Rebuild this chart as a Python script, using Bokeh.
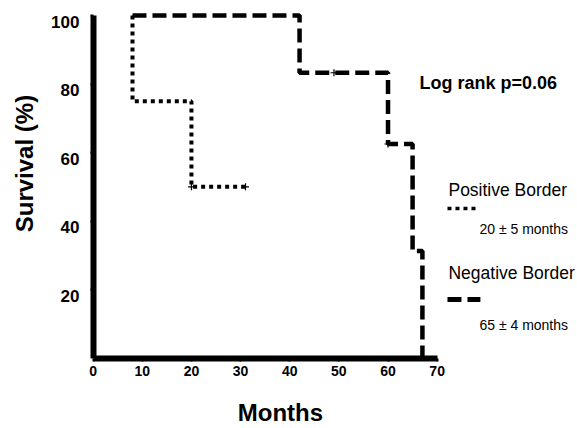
from bokeh.plotting import figure
from bokeh.models import Range1d, FixedTicker, Label, LinearAxis
from bokeh.core.properties import value
from bokeh.embed import file_html
from bokeh.resources import INLINE

# Data
x_ticks = [0, 10, 20, 30, 40, 50, 60, 70]
y_ticks = [20, 40, 60, 80, 100]
y_tick_labels = ["20", "40", "60", "80", "100"]
pos_time = [8, 8, 20, 31]
pos_surv = [100, 75, 50, 50]
pos_cens_time = [20, 31]
pos_cens_surv = [50, 50]
neg_time = [8, 42, 60, 65, 67]
neg_surv = [100, 83.3, 62.5, 31.25, 0]
neg_cens_time = [49, 60]
neg_cens_surv = [83.3, 62.5]

FONT = "Liberation Sans"

p = figure(width=577, height=428, output_backend="svg", toolbar_location=None,
           x_range=Range1d(-18.86, 98.56), y_range=Range1d(-20.51, 104.38),
           x_axis_location=None, y_axis_location=None,
           min_border=0)
p.outline_line_color = None
p.background_fill_color = "white"
p.border_fill_color = "white"

xa = LinearAxis(fixed_location=0, ticker=FixedTicker(ticks=x_ticks), bounds=(0, 70))
ya = LinearAxis(fixed_location=0, ticker=FixedTicker(ticks=y_ticks), bounds=(0, 100))
for ax in (xa, ya):
    ax.axis_line_width = 6
    ax.axis_line_color = "black"
    ax.major_tick_in = 0
    ax.major_tick_out = 3
    ax.major_tick_line_width = 2
    ax.minor_tick_line_color = None
    ax.major_label_text_font = FONT
    ax.major_label_text_font_style = "bold"
    ax.major_label_text_color = "black"
xa.major_label_text_font_size = "14px"
xa.major_label_standoff = 5
ya.major_label_text_font_size = "17px"
ya.major_label_text_color = None
p.add_layout(xa, "below")
p.add_layout(ya, "left")
p.grid.grid_line_color = None

# y tick labels (sit slightly below their ticks as in the original)
p.text(x=[0] * len(y_ticks), y=y_ticks, text=y_tick_labels, x_offset=-13.7, y_offset=6,
       text_font=value(FONT), text_font_style="bold", text_font_size="17px",
       text_align="right", text_baseline="middle", text_color="black")

p.step(pos_time, pos_surv, mode="after", line_color="black", line_width=4, line_dash="4 4")
p.step(neg_time, neg_surv, mode="after", line_color="black", line_width=4.5, line_dash="14 6")
p.scatter(pos_cens_time, pos_cens_surv, marker="cross", size=7, line_color="black", line_width=1.2)
p.scatter(neg_cens_time, neg_cens_surv, marker="cross", size=7, line_color="black", line_width=1.2)

# legend samples
p.line([72.1, 78.6], [43.7, 43.7], line_color="black", line_width=3.5, line_dash="4 4")
p.line([72.1, 78.8], [17.1, 17.1], line_color="black", line_width=5, line_dash="14 6")

def lab(x, y, t, size, style="normal", align="left", angle=0):
    p.add_layout(Label(x=x, y=y, text=t, text_font=FONT, text_font_size=size,
                       text_font_style=style, text_align=align, text_baseline="middle",
                       text_color="black", angle=angle))

lab(66.4, 80.2, "Log rank p=0.06", "18px", "bold")
lab(72.3, 49.2, "Positive Border", "17.5px")
lab(78.6, 37.8, "20 ± 5 months", "14px")
lab(72.3, 25.0, "Negative Border", "17.5px")
lab(78.6, 9.6, "65 ± 4 months", "14px")
lab(38.1, -15.9, "Months", "24px", "bold", "center")
lab(-14.0, 56.8, "Survival (%)", "24px", "bold", "center", 1.5708)

open("out.html", "w").write(file_html(p, INLINE))
